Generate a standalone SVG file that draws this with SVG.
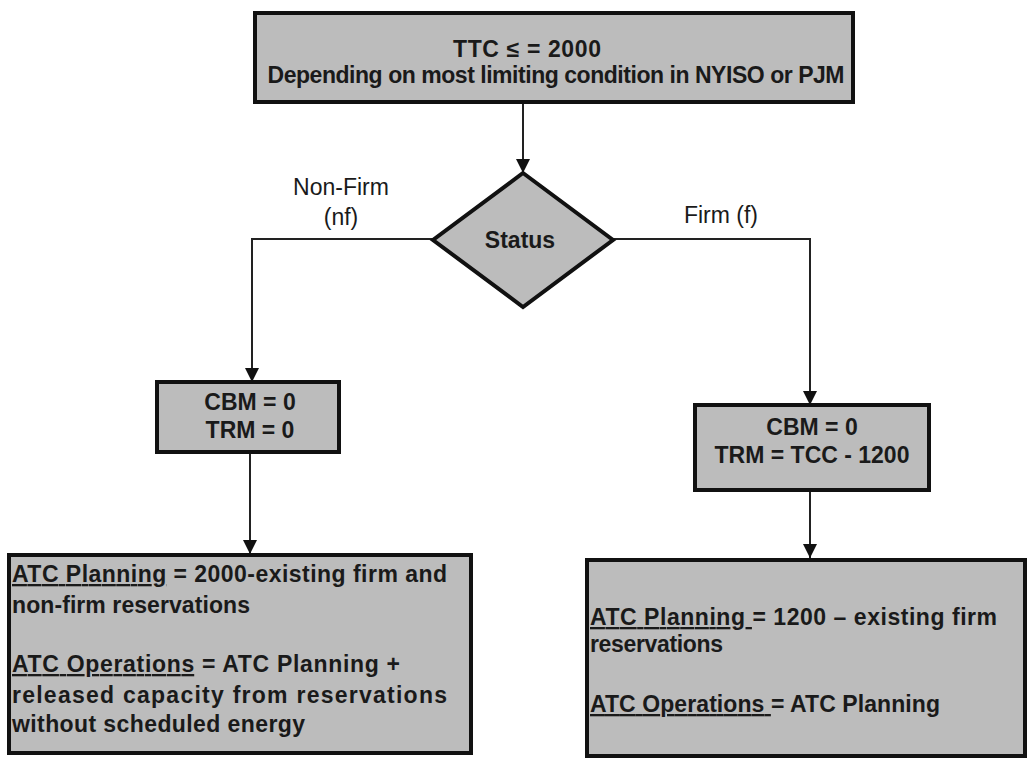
<svg xmlns="http://www.w3.org/2000/svg" width="1031" height="768" viewBox="0 0 1031 768">
<defs>
<marker id="arr" viewBox="0 0 10 10" refX="10" refY="5" markerWidth="14" markerHeight="14" markerUnits="userSpaceOnUse" orient="auto">
<path d="M0,0 L10,5 L0,10 z" fill="#111"/>
</marker>
</defs>
<style>
.box{fill:#bcbcbc;stroke:#111;stroke-width:4}
.t{font-family:"Liberation Sans",Arial,sans-serif;font-weight:bold;font-size:23px;fill:#1a1a1a}
.c{text-anchor:middle}
.lbl{font-family:"Liberation Sans",Arial,sans-serif;font-size:23px;fill:#1a1a1a;text-anchor:middle}
.u{text-decoration:underline}
.con{fill:none;stroke:#222;stroke-width:2}
</style>
<rect width="1031" height="768" fill="#ffffff"/>
<g id="connectors">
<path class="con" d="M523,102 L523,173" marker-end="url(#arr)"/>
<path class="con" d="M433,239 L252,239 L252,382" marker-end="url(#arr)"/>
<path class="con" d="M613,239 L810,239 L810,405" marker-end="url(#arr)"/>
<path class="con" d="M250,452 L250,554" marker-end="url(#arr)"/>
<path class="con" d="M810,490 L810,558" marker-end="url(#arr)"/>
</g>
<g id="edge-labels">
<text class="lbl" x="341" y="195">Non-Firm</text>
<text class="lbl" x="341" y="225">(nf)</text>
<text class="lbl" x="721" y="223">Firm (f)</text>
</g>
<g id="ttc">
<rect class="box" x="255" y="13" width="598" height="89"/>
<text class="t c" x="527" y="57" textLength="148">TTC ≤ = 2000</text>
<text class="t c" x="556" y="83" textLength="577">Depending on most limiting condition in NYISO or PJM</text>
</g>
<g id="status">
<polygon class="box" points="523,173 613,240 523,307 433,240"/>
<text class="t c" x="520" y="248">Status</text>
</g>
<g id="nf-box">
<rect class="box" x="157" y="382" width="182" height="70"/>
<text class="t c" x="250" y="410">CBM = 0</text>
<text class="t c" x="250" y="438">TRM = 0</text>
</g>
<g id="f-box">
<rect class="box" x="695" y="405" width="234" height="85"/>
<text class="t c" x="812" y="435">CBM = 0</text>
<text class="t c" x="812" y="463">TRM = TCC - 1200</text>
</g>
<g id="nf-atc">
<rect class="box" x="9" y="555" width="462" height="198"/>
<text class="t" x="12" y="582" textLength="435"><tspan class="u">ATC Planning</tspan> = 2000-existing firm and</text>
<text class="t" x="12" y="613" textLength="238">non-firm reservations</text>
<text class="t" x="12" y="672" textLength="388"><tspan class="u">ATC Operations</tspan> = ATC Planning +</text>
<text class="t" x="12" y="703" textLength="435">released capacity from reservations</text>
<text class="t" x="12" y="732" textLength="293">without scheduled energy</text>
</g>
<g id="f-atc">
<rect class="box" x="587" y="560" width="438" height="196"/>
<text class="t" x="590" y="625" textLength="407"><tspan class="u">ATC Planning </tspan>= 1200 – existing firm</text>
<text class="t" x="590" y="652" textLength="133">reservations</text>
<text class="t" x="590" y="712" textLength="350"><tspan class="u">ATC Operations </tspan>= ATC Planning</text>
</g>
</svg>
